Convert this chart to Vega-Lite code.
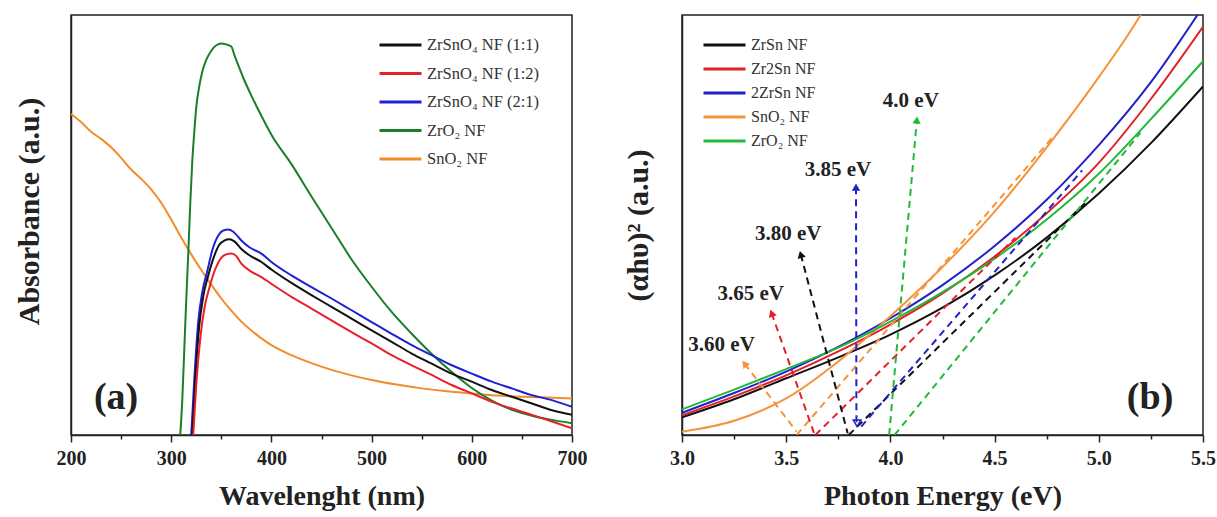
{
  "$schema": "https://vega.github.io/schema/vega-lite/v6.json",
  "background": "white",
  "padding": {"left": 13, "top": 14, "right": 0, "bottom": 0},
  "spacing": 34,
  "config": {
    "font": "Liberation Serif",
    "view": {"stroke": "#222", "strokeWidth": 1.5},
    "axis": {
      "grid": false,
      "domainColor": "#222", "domainWidth": 1.5,
      "tickColor": "#222", "tickWidth": 1.5,
      "labelFont": "Liberation Serif", "labelFontWeight": "bold", "labelFontSize": 20, "labelColor": "#222",
      "titleFont": "Liberation Serif", "titleFontWeight": "bold", "titleFontSize": 28, "titleColor": "#222"
    },
    "legend": {"labelFont": "Liberation Serif", "labelFontSize": 16, "labelColor": "#333"}
  },
  "datasets": {
    "abs": [
      {"sample": "SnO₂ NF", "nm": 200, "a": 0.764}, {"sample": "SnO₂ NF", "nm": 210, "a": 0.745}, {"sample": "SnO₂ NF", "nm": 220, "a": 0.722}, {"sample": "SnO₂ NF", "nm": 230, "a": 0.705}, {"sample": "SnO₂ NF", "nm": 240, "a": 0.685}, {"sample": "SnO₂ NF", "nm": 250, "a": 0.66}, {"sample": "SnO₂ NF", "nm": 260, "a": 0.632}, {"sample": "SnO₂ NF", "nm": 270, "a": 0.61}, {"sample": "SnO₂ NF", "nm": 280, "a": 0.585}, {"sample": "SnO₂ NF", "nm": 290, "a": 0.553}, {"sample": "SnO₂ NF", "nm": 300, "a": 0.513}, {"sample": "SnO₂ NF", "nm": 310, "a": 0.47}, {"sample": "SnO₂ NF", "nm": 320, "a": 0.43}, {"sample": "SnO₂ NF", "nm": 330, "a": 0.393}, {"sample": "SnO₂ NF", "nm": 340, "a": 0.358}, {"sample": "SnO₂ NF", "nm": 350, "a": 0.325}, {"sample": "SnO₂ NF", "nm": 360, "a": 0.296}, {"sample": "SnO₂ NF", "nm": 370, "a": 0.27}, {"sample": "SnO₂ NF", "nm": 380, "a": 0.249}, {"sample": "SnO₂ NF", "nm": 390, "a": 0.23}, {"sample": "SnO₂ NF", "nm": 400, "a": 0.214}, {"sample": "SnO₂ NF", "nm": 420, "a": 0.19}, {"sample": "SnO₂ NF", "nm": 440, "a": 0.171}, {"sample": "SnO₂ NF", "nm": 460, "a": 0.155}, {"sample": "SnO₂ NF", "nm": 480, "a": 0.142}, {"sample": "SnO₂ NF", "nm": 500, "a": 0.131}, {"sample": "SnO₂ NF", "nm": 525, "a": 0.12}, {"sample": "SnO₂ NF", "nm": 550, "a": 0.111}, {"sample": "SnO₂ NF", "nm": 575, "a": 0.104}, {"sample": "SnO₂ NF", "nm": 600, "a": 0.099}, {"sample": "SnO₂ NF", "nm": 625, "a": 0.094}, {"sample": "SnO₂ NF", "nm": 650, "a": 0.091}, {"sample": "SnO₂ NF", "nm": 675, "a": 0.089}, {"sample": "SnO₂ NF", "nm": 700, "a": 0.087},

      {"sample": "ZrO₂ NF", "nm": 309, "a": 0}, {"sample": "ZrO₂ NF", "nm": 311, "a": 0.08}, {"sample": "ZrO₂ NF", "nm": 313, "a": 0.2}, {"sample": "ZrO₂ NF", "nm": 315, "a": 0.32}, {"sample": "ZrO₂ NF", "nm": 317, "a": 0.43}, {"sample": "ZrO₂ NF", "nm": 319, "a": 0.55}, {"sample": "ZrO₂ NF", "nm": 321, "a": 0.65}, {"sample": "ZrO₂ NF", "nm": 323, "a": 0.72}, {"sample": "ZrO₂ NF", "nm": 325, "a": 0.78}, {"sample": "ZrO₂ NF", "nm": 328, "a": 0.83}, {"sample": "ZrO₂ NF", "nm": 331, "a": 0.865}, {"sample": "ZrO₂ NF", "nm": 335, "a": 0.893}, {"sample": "ZrO₂ NF", "nm": 340, "a": 0.915}, {"sample": "ZrO₂ NF", "nm": 345, "a": 0.928}, {"sample": "ZrO₂ NF", "nm": 350, "a": 0.932}, {"sample": "ZrO₂ NF", "nm": 355, "a": 0.93}, {"sample": "ZrO₂ NF", "nm": 360, "a": 0.925}, {"sample": "ZrO₂ NF", "nm": 363, "a": 0.905}, {"sample": "ZrO₂ NF", "nm": 367, "a": 0.88}, {"sample": "ZrO₂ NF", "nm": 372, "a": 0.85}, {"sample": "ZrO₂ NF", "nm": 380, "a": 0.808}, {"sample": "ZrO₂ NF", "nm": 390, "a": 0.76}, {"sample": "ZrO₂ NF", "nm": 400, "a": 0.715}, {"sample": "ZrO₂ NF", "nm": 420, "a": 0.645}, {"sample": "ZrO₂ NF", "nm": 440, "a": 0.568}, {"sample": "ZrO₂ NF", "nm": 460, "a": 0.493}, {"sample": "ZrO₂ NF", "nm": 480, "a": 0.418}, {"sample": "ZrO₂ NF", "nm": 500, "a": 0.353}, {"sample": "ZrO₂ NF", "nm": 520, "a": 0.293}, {"sample": "ZrO₂ NF", "nm": 540, "a": 0.241}, {"sample": "ZrO₂ NF", "nm": 560, "a": 0.193}, {"sample": "ZrO₂ NF", "nm": 580, "a": 0.15}, {"sample": "ZrO₂ NF", "nm": 600, "a": 0.112}, {"sample": "ZrO₂ NF", "nm": 620, "a": 0.082}, {"sample": "ZrO₂ NF", "nm": 640, "a": 0.06}, {"sample": "ZrO₂ NF", "nm": 660, "a": 0.046}, {"sample": "ZrO₂ NF", "nm": 680, "a": 0.036}, {"sample": "ZrO₂ NF", "nm": 700, "a": 0.028},

      {"sample": "ZrSnO₄ NF (2:1)", "nm": 320, "a": 0}, {"sample": "ZrSnO₄ NF (2:1)", "nm": 323, "a": 0.13}, {"sample": "ZrSnO₄ NF (2:1)", "nm": 327, "a": 0.27}, {"sample": "ZrSnO₄ NF (2:1)", "nm": 331, "a": 0.34}, {"sample": "ZrSnO₄ NF (2:1)", "nm": 336, "a": 0.39}, {"sample": "ZrSnO₄ NF (2:1)", "nm": 341, "a": 0.44}, {"sample": "ZrSnO₄ NF (2:1)", "nm": 347, "a": 0.475}, {"sample": "ZrSnO₄ NF (2:1)", "nm": 352, "a": 0.487}, {"sample": "ZrSnO₄ NF (2:1)", "nm": 357, "a": 0.489}, {"sample": "ZrSnO₄ NF (2:1)", "nm": 362, "a": 0.484}, {"sample": "ZrSnO₄ NF (2:1)", "nm": 370, "a": 0.463}, {"sample": "ZrSnO₄ NF (2:1)", "nm": 378, "a": 0.447}, {"sample": "ZrSnO₄ NF (2:1)", "nm": 390, "a": 0.432}, {"sample": "ZrSnO₄ NF (2:1)", "nm": 400, "a": 0.412}, {"sample": "ZrSnO₄ NF (2:1)", "nm": 420, "a": 0.38}, {"sample": "ZrSnO₄ NF (2:1)", "nm": 440, "a": 0.352}, {"sample": "ZrSnO₄ NF (2:1)", "nm": 460, "a": 0.325}, {"sample": "ZrSnO₄ NF (2:1)", "nm": 480, "a": 0.297}, {"sample": "ZrSnO₄ NF (2:1)", "nm": 500, "a": 0.269}, {"sample": "ZrSnO₄ NF (2:1)", "nm": 520, "a": 0.241}, {"sample": "ZrSnO₄ NF (2:1)", "nm": 540, "a": 0.214}, {"sample": "ZrSnO₄ NF (2:1)", "nm": 560, "a": 0.19}, {"sample": "ZrSnO₄ NF (2:1)", "nm": 580, "a": 0.166}, {"sample": "ZrSnO₄ NF (2:1)", "nm": 600, "a": 0.146}, {"sample": "ZrSnO₄ NF (2:1)", "nm": 620, "a": 0.127}, {"sample": "ZrSnO₄ NF (2:1)", "nm": 640, "a": 0.111}, {"sample": "ZrSnO₄ NF (2:1)", "nm": 660, "a": 0.095}, {"sample": "ZrSnO₄ NF (2:1)", "nm": 680, "a": 0.083}, {"sample": "ZrSnO₄ NF (2:1)", "nm": 700, "a": 0.067},

      {"sample": "ZrSnO₄ NF (1:1)", "nm": 321, "a": 0}, {"sample": "ZrSnO₄ NF (1:1)", "nm": 324, "a": 0.13}, {"sample": "ZrSnO₄ NF (1:1)", "nm": 328, "a": 0.26}, {"sample": "ZrSnO₄ NF (1:1)", "nm": 332, "a": 0.33}, {"sample": "ZrSnO₄ NF (1:1)", "nm": 337, "a": 0.38}, {"sample": "ZrSnO₄ NF (1:1)", "nm": 342, "a": 0.42}, {"sample": "ZrSnO₄ NF (1:1)", "nm": 348, "a": 0.453}, {"sample": "ZrSnO₄ NF (1:1)", "nm": 353, "a": 0.463}, {"sample": "ZrSnO₄ NF (1:1)", "nm": 358, "a": 0.466}, {"sample": "ZrSnO₄ NF (1:1)", "nm": 363, "a": 0.461}, {"sample": "ZrSnO₄ NF (1:1)", "nm": 370, "a": 0.443}, {"sample": "ZrSnO₄ NF (1:1)", "nm": 378, "a": 0.428}, {"sample": "ZrSnO₄ NF (1:1)", "nm": 390, "a": 0.412}, {"sample": "ZrSnO₄ NF (1:1)", "nm": 400, "a": 0.394}, {"sample": "ZrSnO₄ NF (1:1)", "nm": 420, "a": 0.362}, {"sample": "ZrSnO₄ NF (1:1)", "nm": 440, "a": 0.333}, {"sample": "ZrSnO₄ NF (1:1)", "nm": 460, "a": 0.305}, {"sample": "ZrSnO₄ NF (1:1)", "nm": 480, "a": 0.277}, {"sample": "ZrSnO₄ NF (1:1)", "nm": 500, "a": 0.249}, {"sample": "ZrSnO₄ NF (1:1)", "nm": 520, "a": 0.222}, {"sample": "ZrSnO₄ NF (1:1)", "nm": 540, "a": 0.194}, {"sample": "ZrSnO₄ NF (1:1)", "nm": 560, "a": 0.17}, {"sample": "ZrSnO₄ NF (1:1)", "nm": 580, "a": 0.146}, {"sample": "ZrSnO₄ NF (1:1)", "nm": 600, "a": 0.127}, {"sample": "ZrSnO₄ NF (1:1)", "nm": 620, "a": 0.107}, {"sample": "ZrSnO₄ NF (1:1)", "nm": 640, "a": 0.091}, {"sample": "ZrSnO₄ NF (1:1)", "nm": 660, "a": 0.075}, {"sample": "ZrSnO₄ NF (1:1)", "nm": 680, "a": 0.059}, {"sample": "ZrSnO₄ NF (1:1)", "nm": 700, "a": 0.048},

      {"sample": "ZrSnO₄ NF (1:2)", "nm": 322, "a": 0}, {"sample": "ZrSnO₄ NF (1:2)", "nm": 325, "a": 0.12}, {"sample": "ZrSnO₄ NF (1:2)", "nm": 329, "a": 0.23}, {"sample": "ZrSnO₄ NF (1:2)", "nm": 333, "a": 0.3}, {"sample": "ZrSnO₄ NF (1:2)", "nm": 338, "a": 0.35}, {"sample": "ZrSnO₄ NF (1:2)", "nm": 344, "a": 0.395}, {"sample": "ZrSnO₄ NF (1:2)", "nm": 350, "a": 0.422}, {"sample": "ZrSnO₄ NF (1:2)", "nm": 355, "a": 0.43}, {"sample": "ZrSnO₄ NF (1:2)", "nm": 360, "a": 0.432}, {"sample": "ZrSnO₄ NF (1:2)", "nm": 365, "a": 0.426}, {"sample": "ZrSnO₄ NF (1:2)", "nm": 370, "a": 0.408}, {"sample": "ZrSnO₄ NF (1:2)", "nm": 378, "a": 0.392}, {"sample": "ZrSnO₄ NF (1:2)", "nm": 390, "a": 0.376}, {"sample": "ZrSnO₄ NF (1:2)", "nm": 400, "a": 0.36}, {"sample": "ZrSnO₄ NF (1:2)", "nm": 420, "a": 0.329}, {"sample": "ZrSnO₄ NF (1:2)", "nm": 440, "a": 0.301}, {"sample": "ZrSnO₄ NF (1:2)", "nm": 460, "a": 0.273}, {"sample": "ZrSnO₄ NF (1:2)", "nm": 480, "a": 0.245}, {"sample": "ZrSnO₄ NF (1:2)", "nm": 500, "a": 0.218}, {"sample": "ZrSnO₄ NF (1:2)", "nm": 520, "a": 0.19}, {"sample": "ZrSnO₄ NF (1:2)", "nm": 540, "a": 0.166}, {"sample": "ZrSnO₄ NF (1:2)", "nm": 560, "a": 0.143}, {"sample": "ZrSnO₄ NF (1:2)", "nm": 580, "a": 0.119}, {"sample": "ZrSnO₄ NF (1:2)", "nm": 600, "a": 0.099}, {"sample": "ZrSnO₄ NF (1:2)", "nm": 620, "a": 0.079}, {"sample": "ZrSnO₄ NF (1:2)", "nm": 640, "a": 0.063}, {"sample": "ZrSnO₄ NF (1:2)", "nm": 660, "a": 0.048}, {"sample": "ZrSnO₄ NF (1:2)", "nm": 680, "a": 0.032}, {"sample": "ZrSnO₄ NF (1:2)", "nm": 700, "a": 0.016}
    ],
    "tauc": [
      {"sample": "ZrSn NF", "eV": 3.0, "v": 0.042}, {"sample": "ZrSn NF", "eV": 3.25, "v": 0.085}, {"sample": "ZrSn NF", "eV": 3.5, "v": 0.135}, {"sample": "ZrSn NF", "eV": 3.75, "v": 0.185}, {"sample": "ZrSn NF", "eV": 4.0, "v": 0.239}, {"sample": "ZrSn NF", "eV": 4.25, "v": 0.303}, {"sample": "ZrSn NF", "eV": 4.5, "v": 0.38}, {"sample": "ZrSn NF", "eV": 4.75, "v": 0.47}, {"sample": "ZrSn NF", "eV": 5.0, "v": 0.575}, {"sample": "ZrSn NF", "eV": 5.25, "v": 0.695}, {"sample": "ZrSn NF", "eV": 5.5, "v": 0.83},
      {"sample": "Zr2Sn NF", "eV": 3.0, "v": 0.047}, {"sample": "Zr2Sn NF", "eV": 3.25, "v": 0.092}, {"sample": "Zr2Sn NF", "eV": 3.5, "v": 0.142}, {"sample": "Zr2Sn NF", "eV": 3.75, "v": 0.199}, {"sample": "Zr2Sn NF", "eV": 4.0, "v": 0.263}, {"sample": "Zr2Sn NF", "eV": 4.25, "v": 0.337}, {"sample": "Zr2Sn NF", "eV": 4.5, "v": 0.425}, {"sample": "Zr2Sn NF", "eV": 4.75, "v": 0.528}, {"sample": "Zr2Sn NF", "eV": 5.0, "v": 0.648}, {"sample": "Zr2Sn NF", "eV": 5.25, "v": 0.8}, {"sample": "Zr2Sn NF", "eV": 5.5, "v": 0.972},
      {"sample": "2ZrSn NF", "eV": 3.0, "v": 0.053}, {"sample": "2ZrSn NF", "eV": 3.25, "v": 0.1}, {"sample": "2ZrSn NF", "eV": 3.5, "v": 0.151}, {"sample": "2ZrSn NF", "eV": 3.75, "v": 0.21}, {"sample": "2ZrSn NF", "eV": 4.0, "v": 0.278}, {"sample": "2ZrSn NF", "eV": 4.25, "v": 0.357}, {"sample": "2ZrSn NF", "eV": 4.5, "v": 0.45}, {"sample": "2ZrSn NF", "eV": 4.75, "v": 0.56}, {"sample": "2ZrSn NF", "eV": 5.0, "v": 0.69}, {"sample": "2ZrSn NF", "eV": 5.25, "v": 0.84}, {"sample": "2ZrSn NF", "eV": 5.5, "v": 1.02},
      {"sample": "SnO₂ NF", "eV": 3.0, "v": 0.008}, {"sample": "SnO₂ NF", "eV": 3.25, "v": 0.034}, {"sample": "SnO₂ NF", "eV": 3.5, "v": 0.087}, {"sample": "SnO₂ NF", "eV": 3.75, "v": 0.175}, {"sample": "SnO₂ NF", "eV": 4.0, "v": 0.283}, {"sample": "SnO₂ NF", "eV": 4.25, "v": 0.4}, {"sample": "SnO₂ NF", "eV": 4.5, "v": 0.532}, {"sample": "SnO₂ NF", "eV": 4.75, "v": 0.685}, {"sample": "SnO₂ NF", "eV": 5.0, "v": 0.852}, {"sample": "SnO₂ NF", "eV": 5.15, "v": 0.96}, {"sample": "SnO₂ NF", "eV": 5.25, "v": 1.04},
      {"sample": "ZrO₂ NF", "eV": 3.0, "v": 0.061}, {"sample": "ZrO₂ NF", "eV": 3.25, "v": 0.108}, {"sample": "ZrO₂ NF", "eV": 3.5, "v": 0.157}, {"sample": "ZrO₂ NF", "eV": 3.75, "v": 0.208}, {"sample": "ZrO₂ NF", "eV": 4.0, "v": 0.27}, {"sample": "ZrO₂ NF", "eV": 4.25, "v": 0.34}, {"sample": "ZrO₂ NF", "eV": 4.5, "v": 0.42}, {"sample": "ZrO₂ NF", "eV": 4.75, "v": 0.513}, {"sample": "ZrO₂ NF", "eV": 5.0, "v": 0.622}, {"sample": "ZrO₂ NF", "eV": 5.25, "v": 0.752}, {"sample": "ZrO₂ NF", "eV": 5.5, "v": 0.89}
    ],
    "dash": [
      {"sample": "SnO₂ NF", "part": "tangent", "eV": 3.55, "v": 0}, {"sample": "SnO₂ NF", "part": "tangent", "eV": 4.78, "v": 0.71},
      {"sample": "Zr2Sn NF", "part": "tangent", "eV": 3.64, "v": 0}, {"sample": "Zr2Sn NF", "part": "tangent", "eV": 4.6, "v": 0.47},
      {"sample": "ZrSn NF", "part": "tangent", "eV": 3.8, "v": 0}, {"sample": "ZrSn NF", "part": "tangent", "eV": 4.95, "v": 0.56},
      {"sample": "2ZrSn NF", "part": "tangent", "eV": 3.86, "v": 0.02}, {"sample": "2ZrSn NF", "part": "tangent", "eV": 4.92, "v": 0.63},
      {"sample": "ZrO₂ NF", "part": "tangent", "eV": 4.02, "v": 0}, {"sample": "ZrO₂ NF", "part": "tangent", "eV": 5.2, "v": 0.72},
      {"sample": "SnO₂ NF", "part": "arrow", "eV": 3.55, "v": 0.008}, {"sample": "SnO₂ NF", "part": "arrow", "eV": 3.3, "v": 0.17},
      {"sample": "Zr2Sn NF", "part": "arrow", "eV": 3.634, "v": 0.004}, {"sample": "Zr2Sn NF", "part": "arrow", "eV": 3.43, "v": 0.29},
      {"sample": "ZrSn NF", "part": "arrow", "eV": 3.795, "v": 0.004}, {"sample": "ZrSn NF", "part": "arrow", "eV": 3.57, "v": 0.43},
      {"sample": "2ZrSn NF", "part": "arrow", "eV": 3.837, "v": 0.02}, {"sample": "2ZrSn NF", "part": "arrow", "eV": 3.835, "v": 0.59},
      {"sample": "ZrO₂ NF", "part": "arrow", "eV": 3.994, "v": 0}, {"sample": "ZrO₂ NF", "part": "arrow", "eV": 4.127, "v": 0.75}
    ],
    "heads": [
      {"sample": "SnO₂ NF", "dir": "a", "eV": 3.3, "v": 0.17},
      {"sample": "Zr2Sn NF", "dir": "b", "eV": 3.43, "v": 0.29},
      {"sample": "ZrSn NF", "dir": "c", "eV": 3.57, "v": 0.43},
      {"sample": "2ZrSn NF", "dir": "d", "eV": 3.835, "v": 0.59},
      {"sample": "2ZrSn NF", "dir": "f", "eV": 3.84, "v": 0.028},
      {"sample": "ZrO₂ NF", "dir": "e", "eV": 4.127, "v": 0.75}
    ],
    "gaps": [
      {"label": "3.60 eV", "eV": 3.19, "v": 0.215},
      {"label": "3.65 eV", "eV": 3.33, "v": 0.335},
      {"label": "3.80 eV", "eV": 3.51, "v": 0.479},
      {"label": "3.85 eV", "eV": 3.748, "v": 0.631},
      {"label": "4.0 eV", "eV": 4.098, "v": 0.795}
    ]
  },
  "hconcat": [
    {
      "width": 501, "height": 420,
      "layer": [
        {
          "data": {"name": "abs"},
          "mark": {"type": "line", "strokeWidth": 2, "clip": true, "interpolate": "monotone"},
          "encoding": {
            "x": {"field": "nm", "type": "quantitative", "scale": {"domain": [200, 700], "nice": false},
              "axis": {"title": "Wavelenght (nm)", "values": [200, 250, 300, 350, 400, 450, 500, 550, 600, 650, 700],
                "labelExpr": "datum.value % 100 === 0 ? datum.label : ''", "labelFlush": false, "labelOverlap": false, "labelBound": false,
                "tickSize": {"condition": {"test": "datum.value % 100 === 0", "value": 7}, "value": 4},
                "labelPadding": 6, "titlePadding": 14}},
            "y": {"field": "a", "type": "quantitative", "scale": {"domain": [0, 1], "nice": false},
              "axis": {"title": "Absorbance (a.u.)", "labels": false, "ticks": false, "titlePadding": 27, "titleFontSize": 30, "titleY": 196}},
            "color": {"field": "sample", "type": "nominal",
              "scale": {"domain": ["ZrSnO₄ NF (1:1)", "ZrSnO₄ NF (1:2)", "ZrSnO₄ NF (2:1)", "ZrO₂ NF", "SnO₂ NF"],
                "range": ["#111111", "#e8202a", "#1f1fd6", "#1a7f2a", "#f28c28"]},
              "legend": {"orient": "none", "legendX": 307, "legendY": 22, "title": null, "symbolType": "stroke",
                "symbolSize": 1764, "symbolStrokeWidth": 3, "clipHeight": 16, "rowPadding": 11.5, "labelOffset": 4, "padding": 0, "labelFontSize": 16.5}}
          }
        },
        {
          "data": {"values": [{"label": "(a)", "nm": 245, "a": 0.088}]},
          "mark": {"type": "text", "fontSize": 38, "fontWeight": "bold", "font": "Liberation Serif", "color": "#222"},
          "encoding": {
            "x": {"field": "nm", "type": "quantitative"},
            "y": {"field": "a", "type": "quantitative"},
            "text": {"field": "label"}
          }
        }
      ]
    },
    {
      "width": 521, "height": 420,
      "layer": [
        {
          "data": {"name": "tauc"},
          "mark": {"type": "line", "strokeWidth": 2, "clip": true, "interpolate": "monotone"},
          "encoding": {
            "x": {"field": "eV", "type": "quantitative", "scale": {"domain": [3.0, 5.5], "nice": false},
              "axis": {"title": "Photon Energy (eV)", "values": [3.0, 3.25, 3.5, 3.75, 4.0, 4.25, 4.5, 4.75, 5.0, 5.25, 5.5],
                "format": ".1f",
                "labelExpr": "round(datum.value * 4) % 2 === 0 ? datum.label : ''", "labelFlush": false, "labelOverlap": false, "labelBound": false,
                "tickSize": {"condition": {"test": "round(datum.value * 4) % 2 === 0", "value": 7}, "value": 4},
                "labelPadding": 6, "titlePadding": 14}},
            "y": {"field": "v", "type": "quantitative", "scale": {"domain": [0, 1], "nice": false},
              "axis": {"title": "(αhυ)² (a.u.)", "labels": false, "ticks": false, "titlePadding": 29, "titleFontSize": 30}},
            "color": {"field": "sample", "type": "nominal",
              "scale": {"domain": ["ZrSn NF", "Zr2Sn NF", "2ZrSn NF", "SnO₂ NF", "ZrO₂ NF"],
                "range": ["#111111", "#e2202a", "#2222c8", "#f5923a", "#22b83a"]},
              "legend": {"orient": "none", "legendX": 20, "legendY": 22, "title": null, "symbolType": "stroke",
                "symbolSize": 1764, "symbolStrokeWidth": 3, "clipHeight": 16, "rowPadding": 8, "labelOffset": 4, "padding": 0, "labelFontSize": 16}}
          }
        },
        {
          "data": {"name": "dash"},
          "mark": {"type": "line", "strokeWidth": 2, "strokeDash": [7, 5], "clip": true},
          "encoding": {
            "x": {"field": "eV", "type": "quantitative"},
            "y": {"field": "v", "type": "quantitative"},
            "color": {"field": "sample", "type": "nominal"},
            "detail": {"field": "part"}
          }
        },
        {
          "data": {"name": "heads"},
          "transform": [{"filter": "datum.dir === 'a'"}],
          "mark": {"type": "point", "shape": "triangle-up", "filled": true, "size": 70, "angle": 322, "opacity": 1},
          "encoding": {"x": {"field": "eV", "type": "quantitative"}, "y": {"field": "v", "type": "quantitative"}, "color": {"field": "sample", "type": "nominal"}}
        },
        {
          "data": {"name": "heads"},
          "transform": [{"filter": "datum.dir === 'b'"}],
          "mark": {"type": "point", "shape": "triangle-up", "filled": true, "size": 70, "angle": 340, "opacity": 1},
          "encoding": {"x": {"field": "eV", "type": "quantitative"}, "y": {"field": "v", "type": "quantitative"}, "color": {"field": "sample", "type": "nominal"}}
        },
        {
          "data": {"name": "heads"},
          "transform": [{"filter": "datum.dir === 'c'"}],
          "mark": {"type": "point", "shape": "triangle-up", "filled": true, "size": 70, "angle": 345, "opacity": 1},
          "encoding": {"x": {"field": "eV", "type": "quantitative"}, "y": {"field": "v", "type": "quantitative"}, "color": {"field": "sample", "type": "nominal"}}
        },
        {
          "data": {"name": "heads"},
          "transform": [{"filter": "datum.dir === 'd'"}],
          "mark": {"type": "point", "shape": "triangle-up", "filled": true, "size": 70, "angle": 0, "opacity": 1},
          "encoding": {"x": {"field": "eV", "type": "quantitative"}, "y": {"field": "v", "type": "quantitative"}, "color": {"field": "sample", "type": "nominal"}}
        },
        {
          "data": {"name": "heads"},
          "transform": [{"filter": "datum.dir === 'f'"}],
          "mark": {"type": "point", "shape": "triangle-up", "filled": false, "strokeWidth": 1.5, "size": 60, "angle": 180, "opacity": 1},
          "encoding": {"x": {"field": "eV", "type": "quantitative"}, "y": {"field": "v", "type": "quantitative"}, "color": {"field": "sample", "type": "nominal"}}
        },
        {
          "data": {"name": "heads"},
          "transform": [{"filter": "datum.dir === 'e'"}],
          "mark": {"type": "point", "shape": "triangle-up", "filled": true, "size": 70, "angle": 5, "opacity": 1},
          "encoding": {"x": {"field": "eV", "type": "quantitative"}, "y": {"field": "v", "type": "quantitative"}, "color": {"field": "sample", "type": "nominal"}}
        },
        {
          "data": {"name": "gaps"},
          "mark": {"type": "text", "fontSize": 21, "fontWeight": "bold", "font": "Liberation Serif", "color": "#222"},
          "encoding": {"x": {"field": "eV", "type": "quantitative"}, "y": {"field": "v", "type": "quantitative"}, "text": {"field": "label"}}
        },
        {
          "data": {"values": [{"label": "(b)", "eV": 5.246, "v": 0.088}]},
          "mark": {"type": "text", "fontSize": 38, "fontWeight": "bold", "font": "Liberation Serif", "color": "#222"},
          "encoding": {"x": {"field": "eV", "type": "quantitative"}, "y": {"field": "v", "type": "quantitative"}, "text": {"field": "label"}}
        }
      ]
    }
  ],
  "resolve": {"scale": {"color": "independent"}}
}
